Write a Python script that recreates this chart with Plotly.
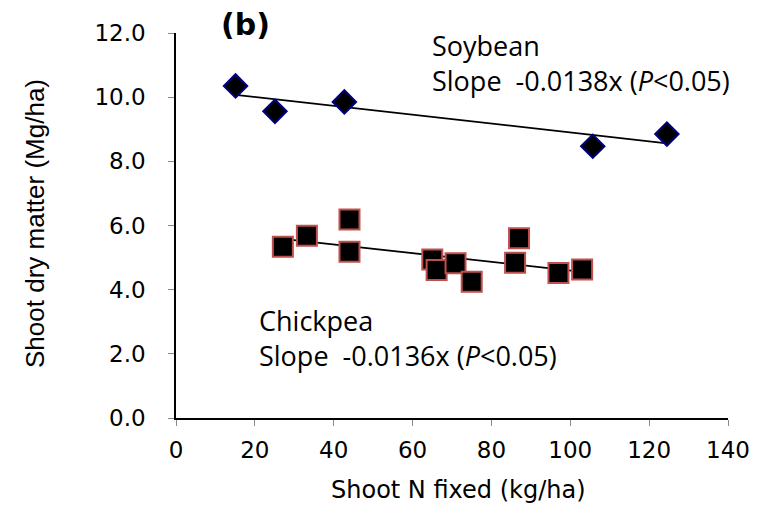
import numpy as np
import plotly.graph_objects as go

# Data
soy_x = [15.1, 25.1, 42.7, 105.7, 124.5]
soy_y = [10.35, 9.56, 9.85, 8.47, 8.85]
chk_x = [27.1, 33.2, 44.0, 44.0, 65.0, 66.1, 70.9, 75.0, 86.0, 87.0, 97.0, 103.0]
chk_y = [5.34, 5.68, 6.19, 5.18, 4.94, 4.61, 4.82, 4.25, 4.84, 5.60, 4.52, 4.63]
soy_slope = -0.0138
chk_slope = -0.0136
x_ticks = [0, 20, 40, 60, 80, 100, 120, 140]
y_ticks = [0, 2, 4, 6, 8, 10, 12]


def trend(xs, ys, slope):
    xs = np.asarray(xs, float)
    ys = np.asarray(ys, float)
    b = ys.mean() - slope * xs.mean()
    lx = np.array([xs.min(), xs.max()])
    return lx, b + slope * lx


fig = go.Figure()
lx, ly = trend(soy_x, soy_y, soy_slope)
fig.add_trace(go.Scatter(x=lx, y=ly, mode="lines", line=dict(color="black", width=1.8), showlegend=False))
lx, ly = trend(chk_x, chk_y, chk_slope)
fig.add_trace(go.Scatter(x=lx, y=ly, mode="lines", line=dict(color="black", width=1.8), showlegend=False))
fig.add_trace(go.Scatter(x=soy_x, y=soy_y, mode="markers", showlegend=False,
                         marker=dict(symbol="diamond", size=18, color="black",
                                     line=dict(color="#000080", width=2))))
fig.add_trace(go.Scatter(x=chk_x, y=chk_y, mode="markers", showlegend=False,
                         marker=dict(symbol="square", size=20, color="black",
                                     line=dict(color="#c0504d", width=2))))

tickfont = dict(family="DejaVu Sans, Arial, sans-serif", size=23, color="black")
txtfont = dict(family="Open Sans, sans-serif", size=27, color="black")

L, R, T, B = 176, 43, 33, 87
W, H = 771, 505
pw, ph = W - L - R, H - T - B


def px_x(px):
    return (px - L) / pw


def px_y(py):
    return (H - B - py) / ph


fig.update_layout(
    width=W, height=H,
    margin=dict(l=L, r=R, t=T, b=B),
    paper_bgcolor="white", plot_bgcolor="white",
    xaxis=dict(range=[0, 140], tickvals=x_ticks, ticktext=[str(v) for v in x_ticks],
               showgrid=False, zeroline=False, showline=True, linecolor="black", linewidth=1.5,
               ticks="outside", ticklen=6, tickcolor="#888888", tickfont=tickfont,
               ticklabelstandoff=5),
    yaxis=dict(range=[0, 12], tickvals=y_ticks, ticktext=[f"{v:.1f}" for v in y_ticks],
               showgrid=False, zeroline=False, showline=True, linecolor="black", linewidth=1.5,
               ticks="outside", ticklen=6, tickcolor="#888888", tickfont=tickfont,
               ticklabelstandoff=18),
    annotations=[
        dict(x=px_x(245), y=px_y(25), xref="paper", yref="paper", text="<b>(b)</b>", showarrow=False,
             xanchor="center", yanchor="middle",
             font=dict(family="DejaVu Sans, Arial, sans-serif", size=30, color="black")),
        dict(x=64.4, y=11.05, xref="x", yref="y",
             text="Soybean<br>Slope  -0.0138x (<i>P</i><0.05)", showarrow=False,
             align="left", xanchor="left", yanchor="middle", font=txtfont),
        dict(x=20.5, y=2.49, xref="x", yref="y",
             text="Chickpea<br>Slope  -0.0136x (<i>P</i><0.05)", showarrow=False,
             align="left", xanchor="left", yanchor="middle", font=txtfont),
        dict(x=px_x(458), y=px_y(490), xref="paper", yref="paper", text="Shoot N fixed (kg/ha)",
             showarrow=False, xanchor="center", yanchor="middle",
             font=dict(family="DejaVu Sans, Arial, sans-serif", size=24, color="black")),
        dict(x=px_x(35), y=px_y(224), xref="paper", yref="paper", text="Shoot dry matter (Mg/ha)",
             showarrow=False, textangle=-90, xanchor="center", yanchor="middle",
             font=dict(family="Liberation Sans Narrow, Arial Narrow, Liberation Sans, sans-serif", size=26, color="black")),
    ],
)
fig.write_html("out.html")
